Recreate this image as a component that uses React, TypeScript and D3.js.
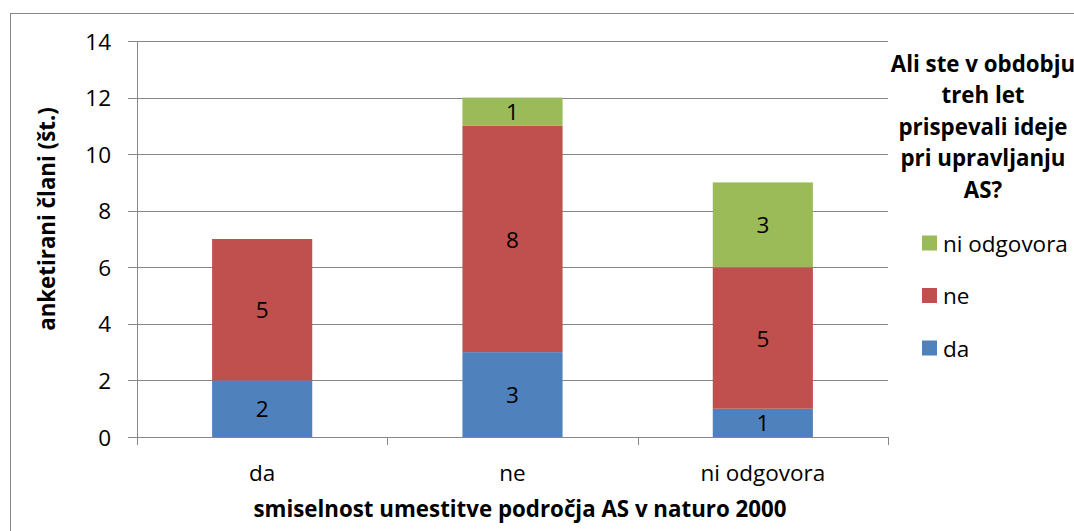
import React from "react";
import * as d3 from "d3";

const categories = ["da", "ne", "ni odgovora"];
const seriesNames = ["da", "ne", "ni odgovora"];
const daValues = [2, 3, 1];
const neValues = [5, 8, 5];
const niValues = [0, 1, 3];
const yTicks = [0, 2, 4, 6, 8, 10, 12, 14];
const colors = ["#4F81BD", "#C0504D", "#9BBB59"];
const legendTitle = ["Ali ste v obdobju", "treh let", "prispevali ideje", "pri upravljanju", "AS?"];
const xTitle = "smiselnost umestitve področja AS v naturo 2000";
const yTitle = "anketirani člani (št.)";

const FONT = "'Open Sans', sans-serif";

export default function App() {
  const W = 1074, H = 531;
  const x0 = 137, x1 = 888, yTop = 41, yBot = 437;
  const x = d3.scaleBand<string>().domain(categories).range([x0, x1]).paddingInner(0.6).paddingOuter(0.3);
  const y = d3.scaleLinear().domain([0, 14]).range([yBot, yTop]);
  const rows = categories.map((c, i) => ({ cat: c, da: daValues[i], ne: neValues[i], ni: niValues[i] }));
  const stack = d3.stack<any>().keys(["da", "ne", "ni"])(rows);
  const step = (x1 - x0) / categories.length;
  const grid = "#868686";
  const fs = 22.5;
  const bfs = 22.3;

  return (
    <svg width={W} height={H} style={{ position: "fixed", left: 0, top: 0, background: "#fff" }} fontFamily={FONT}>
      <rect x={10.5} y={13.5} width={1200} height={700} fill="#fff" stroke={grid} strokeWidth={1} />
      {yTicks.filter(t => t > 0).map(t => (
        <line key={"g" + t} x1={x0} x2={x1} y1={Math.round(y(t)) + 0.5} y2={Math.round(y(t)) + 0.5} stroke={grid} strokeWidth={1} />
      ))}
      {stack.map((s, si) => s.map((d, i) => {
        const v = d[1] - d[0];
        if (v <= 0) return null;
        return (
          <g key={si + "-" + i}>
            <rect x={x(categories[i])} y={y(d[1])} width={x.bandwidth()} height={y(d[0]) - y(d[1])} fill={colors[si]} />
            <text x={(x(categories[i]) as number) + x.bandwidth() / 2} y={(y(d[0]) + y(d[1])) / 2} textAnchor="middle" dominantBaseline="central" fontSize={fs} fill="#000">{v}</text>
          </g>
        );
      }))}
      <line x1={x0 + 0.5} x2={x0 + 0.5} y1={yTop} y2={yBot} stroke={grid} />
      {yTicks.map(t => (
        <g key={"t" + t}>
          <line x1={128} x2={x0} y1={Math.round(y(t)) + 0.5} y2={Math.round(y(t)) + 0.5} stroke={grid} />
          <text x={111} y={y(t)} textAnchor="end" dominantBaseline="central" fontSize={fs} fill="#000">{t}</text>
        </g>
      ))}
      <line x1={x0} x2={x1} y1={yBot + 0.5} y2={yBot + 0.5} stroke={grid} />
      {d3.range(categories.length + 1).map(i => (
        <line key={"xt" + i} x1={Math.round(x0 + i * step) + 0.5} x2={Math.round(x0 + i * step) + 0.5} y1={yBot} y2={yBot + 8} stroke={grid} />
      ))}
      {categories.map(c => (
        <text key={"xl" + c} x={(x(c) as number) + x.bandwidth() / 2} y={481} textAnchor="middle" fontSize={fs} fill="#000">{c}</text>
      ))}
      <text x={520} y={517} textAnchor="middle" fontSize={bfs} fontWeight="bold" fill="#000">{xTitle}</text>
      <text transform={`translate(55, 219) rotate(-90)`} textAnchor="middle" fontSize={bfs} fontWeight="bold" fill="#000">{yTitle}</text>
      {legendTitle.map((l, i) => (
        <text key={"lt" + i} x={983} y={63 + i * 31.5} textAnchor="middle" dominantBaseline="central" fontSize={bfs} fontWeight="bold" fill="#000">{l}</text>
      ))}
      {[2, 1, 0].map((si, j) => (
        <g key={"lg" + si}>
          <rect x={922} y={243 + j * 52.5 - 7.5} width={15} height={15} fill={colors[si]} />
          <text x={943} y={243 + j * 52.5} dominantBaseline="central" fontSize={fs} fill="#000">{seriesNames[si]}</text>
        </g>
      ))}
    </svg>
  );
}
